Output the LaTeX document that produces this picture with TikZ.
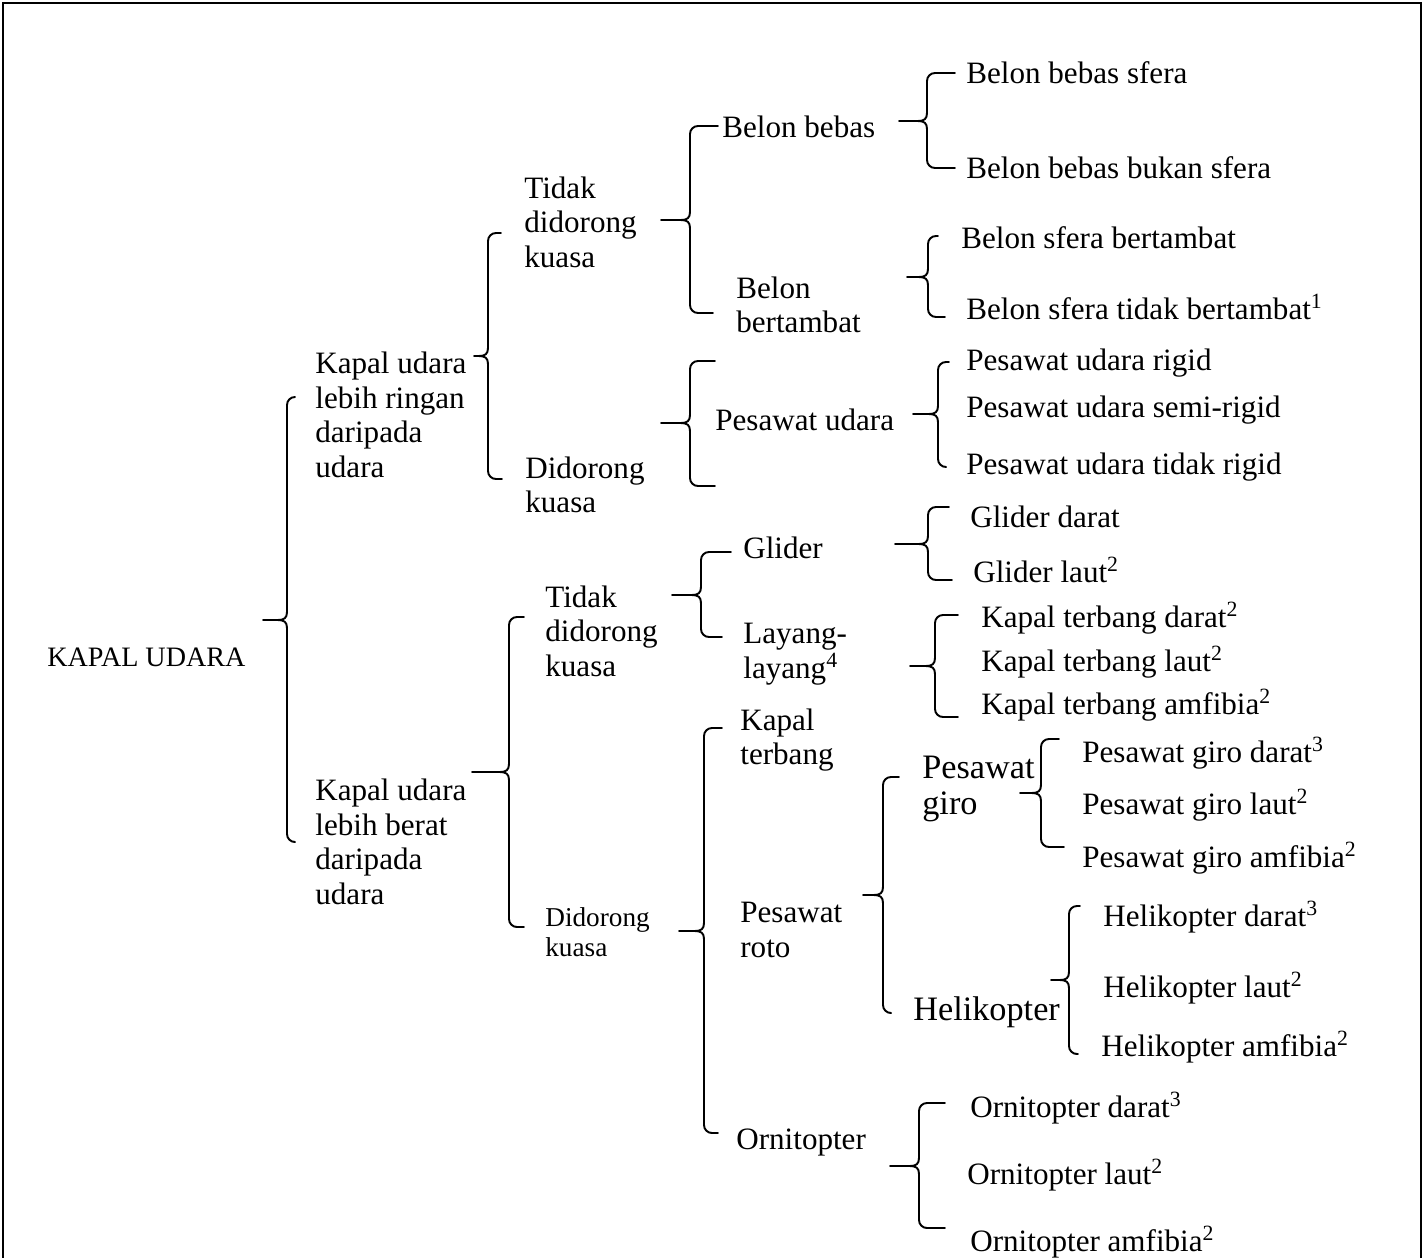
\documentclass[tikz,border=0pt]{standalone}
\usepackage{fontspec}
\setmainfont{Liberation Serif}

\begin{document}
\begin{tikzpicture}[
    x=0.02cm, y=-0.02cm,
    lbl/.style={anchor=west, align=left, inner sep=0pt, font=\fontsize{17.7pt}{19.6pt}\selectfont},
    rootlbl/.style={lbl, font=\fontsize{16pt}{18pt}\selectfont},
    biglbl/.style={lbl, font=\fontsize{19.5pt}{21pt}\selectfont},
    smalllbl/.style={lbl, font=\fontsize{15.5pt}{17pt}\selectfont},
    brc/.style={line width=1.1pt, line cap=round, line join=round},
    frame/.style={line width=1pt}
]
  \useasboundingbox (0,0) rectangle (1424,1258);
  \draw[frame] (3,1258) -- (3,3) -- (1421,3) -- (1421,1258);

  % tree labels
  \node[rootlbl] (kapal) at (47,657) {KAPAL UDARA};
  \node[lbl] (ringan) at (315,415) {Kapal udara\\lebih ringan\\daripada\\udara};
  \node[lbl] (berat) at (315,842) {Kapal udara\\lebih berat\\daripada\\udara};
  \node[lbl] (ltidak) at (524,222) {Tidak\\didorong\\kuasa};
  \node[lbl] (ldorong) at (525,485) {Didorong\\kuasa};
  \node[lbl] (btidak) at (545,631) {Tidak\\didorong\\kuasa};
  \node[smalllbl] (bdorong) at (545,932) {Didorong\\kuasa};
  \node[lbl] (bebas) at (722,127) {Belon bebas};
  \node[lbl] (tambat) at (736,305) {Belon\\bertambat};
  \node[lbl] (pudara) at (715,420) {Pesawat udara};
  \node[lbl] (glider) at (743,548) {Glider};
  \node[lbl] (layang) at (743,654) {Layang-\\layang\textsuperscript{4}};
  \node[lbl] (terbang) at (740,740) {Kapal\\terbang};
  \node[lbl] (roto) at (740,930) {Pesawat\\roto};
  \node[lbl] (orni) at (736,1143) {Ornitopter};
  \node[biglbl] (giro) at (922,789) {Pesawat\\giro};
  \node[biglbl] (heli) at (913,1012) {Helikopter};

  % leaves
  \node[lbl] (bebassf) at (966,73) {Belon bebas sfera};
  \node[lbl] (bebasbk) at (966,168) {Belon bebas bukan sfera};
  \node[lbl] (tambatsf) at (961,238) {Belon sfera bertambat};
  \node[lbl] (tambattd) at (966,307) {Belon sfera tidak bertambat\textsuperscript{1}};
  \node[lbl] (rigid) at (966,363) {Pesawat udara rigid};
  \node[lbl] (semirigid) at (966,410) {Pesawat udara semi-rigid};
  \node[lbl] (tdkrigid) at (966,467) {Pesawat udara tidak rigid};
  \node[lbl] (glidr) at (970,517) {Glider darat};
  \node[lbl] (glila) at (973,570) {Glider laut\textsuperscript{2}};
  \node[lbl] (ktdr) at (981,618) {Kapal terbang darat\textsuperscript{2}};
  \node[lbl] (ktla) at (981,662) {Kapal terbang laut\textsuperscript{2}};
  \node[lbl] (ktam) at (981,705) {Kapal terbang amfibia\textsuperscript{2}};
  \node[lbl] (pgdr) at (1082,753) {Pesawat giro darat\textsuperscript{3}};
  \node[lbl] (pgla) at (1082,805) {Pesawat giro laut\textsuperscript{2}};
  \node[lbl] (pgam) at (1082,858) {Pesawat giro amfibia\textsuperscript{2}};
  \node[lbl] (hedr) at (1103,917) {Helikopter darat\textsuperscript{3}};
  \node[lbl] (hela) at (1103,988) {Helikopter laut\textsuperscript{2}};
  \node[lbl] (heam) at (1101,1047) {Helikopter amfibia\textsuperscript{2}};
  \node[lbl] (ordr) at (970,1108) {Ornitopter darat\textsuperscript{3}};
  \node[lbl] (orla) at (967,1175) {Ornitopter laut\textsuperscript{2}};
  \node[lbl] (oram) at (970,1242) {Ornitopter amfibia\textsuperscript{2}};

  % braces: line x / top / bottom / tip x / tip y / top hook / bottom hook
  \foreach \bx/\bt/\bb/\px/\py/\hu/\hd in {
      287/397/842/263/620/295/295,
      488/233/479/474/356/501/502,
      509/617/927/472/772/524/524,
      690/126/313/661/220/718/713,
      690/361/486/661/423/715/715,
      701/552/637/672/595/731/722,
      704/728/1133/679/931/722/718,
      927/73/168/899/121/955/955,
      928/236/317/907/277/938/945,
      938/362/467/913/414/949/945,
      928/507/580/895/544/949/952,
      935/615/717/910/666/958/958,
      883/777/1013/863/895/899/890,
      919/1103/1228/890/1166/945/945,
      1041/739/847/1020/793/1059/1064,
      1069/906/1054/1051/980/1080/1078}
    \draw[brc] (\hu,\bt) -- (\bx+8,\bt) .. controls (\bx+3.5,\bt) and (\bx,\bt+3.5) .. (\bx,\bt+8)
      -- (\bx,\py-8) .. controls (\bx,\py-2) and (\bx-3,\py) .. (\bx-9,\py) -- (\px,\py)
      (\bx-9,\py) .. controls (\bx-3,\py) and (\bx,\py+2) .. (\bx,\py+8)
      -- (\bx,\bb-8) .. controls (\bx,\bb-3.5) and (\bx+3.5,\bb) .. (\bx+8,\bb) -- (\hd,\bb);
\end{tikzpicture}
\end{document}
